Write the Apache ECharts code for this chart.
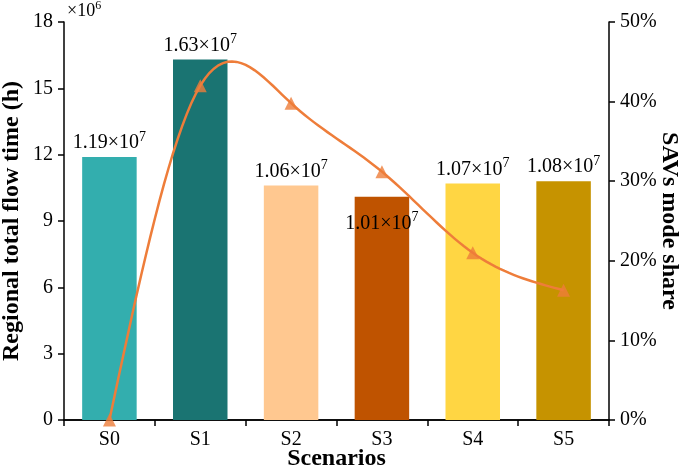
<!DOCTYPE html>
<html><head><meta charset="utf-8">
<script src="https://cdn.jsdelivr.net/npm/echarts@6/dist/echarts.min.js"></script>
<style>html,body{margin:0;padding:0;background:#fff}#c{width:685px;height:471px}</style>
</head><body><div id="c"></div>
<script>
const categories = ['S0','S1','S2','S3','S4','S5'];
const flowTime = [11.9, 16.3, 10.6, 10.1, 10.7, 10.8]; // ×10^6 h
const modeShare = [0.0, 0.42, 0.398, 0.312, 0.21, 0.163];
const barColors = ['#33AEAE','#1A7472','#FFC890','#BF5300','#FFD643','#C69300'];
const leftTicks = {min:0, max:18, interval:3};
const rightTicks = {min:0, max:0.5, interval:0.1};

const F = '"Liberation Serif","Times New Roman",serif';
const LINE = '#EE7D3A';

// natural cubic spline second derivatives (unit spacing)
function splineM(y){
  const n=y.length, M=new Array(n).fill(0);
  const c=[], d=[];
  for(let i=1;i<n-1;i++){
    const rhs=6*(y[i+1]-2*y[i]+y[i-1]);
    if(i===1){c[i]=1/4; d[i]=rhs/4;}
    else {const den=4-c[i-1]; c[i]=1/den; d[i]=(rhs-d[i-1])/den;}
  }
  for(let i=n-2;i>=1;i--){ M[i]=d[i]-(i<n-2?c[i]*M[i+1]:0); }
  return M;
}
const M = splineM(modeShare);

const chart = echarts.init(document.getElementById('c'));
const lbl = v => '{a|' + (v/10).toFixed(2) + '×10}{b|7}';
const rich = {a:{fontFamily:F,fontSize:20,color:'#000'},b:{fontFamily:F,fontSize:14,color:'#000',padding:[0,0,12,0]}};
chart.setOption({
  animation:false,
  grid:{left:64,right:76,top:22,bottom:51,containLabel:false,outerBoundsMode:'none'},
  xAxis:[{
    type:'category', data:categories,
    axisLine:{lineStyle:{color:'#000',width:1.5}},
    axisTick:{show:true,length:6,lineStyle:{color:'#000',width:1.5}},
    axisLabel:{fontFamily:F,fontSize:20,color:'#000',margin:10},
    name:'Scenarios', nameLocation:'middle', nameGap:27, nameMoveOverlap:false,
    nameTextStyle:{fontFamily:F,fontSize:24,fontWeight:'bold',color:'#000'}
  },{
    type:'category', data:categories, position:'top',
    axisLine:{lineStyle:{color:'#000',width:1.5}},
    axisTick:{show:false}, axisLabel:{show:false}
  }],
  yAxis:[{
    type:'value', min:leftTicks.min, max:leftTicks.max, interval:leftTicks.interval,
    axisLine:{show:true,lineStyle:{color:'#000',width:1.5}},
    axisTick:{show:true,length:6,lineStyle:{color:'#000',width:1.5}},
    splitLine:{show:false},
    axisLabel:{fontFamily:F,fontSize:20,color:'#000',margin:11},
    name:'Regional total flow time (h)', nameLocation:'middle', nameGap:40, nameMoveOverlap:false,
    nameTextStyle:{fontFamily:F,fontSize:24,fontWeight:'bold',color:'#000'}
  },{
    type:'value', min:rightTicks.min, max:rightTicks.max, interval:rightTicks.interval,
    position:'right',
    axisLine:{show:true,lineStyle:{color:'#000',width:1.5}},
    axisTick:{show:true,length:6,lineStyle:{color:'#000',width:1.5}},
    splitLine:{show:false},
    axisLabel:{fontFamily:F,fontSize:20,color:'#000',margin:11,formatter:v=>Math.round(v*100)+'%'},
    name:'SAVs mode share', nameLocation:'middle', nameGap:48, nameRotate:-90, nameMoveOverlap:false,
    nameTextStyle:{fontFamily:F,fontSize:24,fontWeight:'bold',color:'#000'}
  }],
  graphic:[{type:'text',left:67,top:0,style:{text:'{a|×10}{b|6}',rich:{a:{fontFamily:F,fontSize:18,fill:'#000'},b:{fontFamily:F,fontSize:12,fill:'#000',padding:[0,0,10,0]}}}}],
  series:[{
    type:'bar', barWidth:'60%',
    data:flowTime.map((v,i)=>({value:v,itemStyle:{color:barColors[i]},
      label: i===3 ? {position:'insideTop',distance:14} : {}})),
    label:{show:true,position:'top',distance:1,formatter:p=>lbl(p.value),rich:rich}
  },{
    type:'custom', yAxisIndex:1, z:4, silent:true,
    data:modeShare.map((v,i)=>[i,v]),
    renderItem:function(params, api){
      if(params.dataIndex!==0) return null;
      const x0=api.coord([0,0])[0], x1=api.coord([1,0])[0];
      const pts=[];
      const y=modeShare;
      for(let i=0;i<y.length-1;i++){
        for(let k=0;k<=20;k++){
          if(i>0&&k===0) continue;
          const t=k/20, u=1-t;
          const v=u*y[i]+t*y[i+1]+((u*u*u-u)*M[i]+(t*t*t-t)*M[i+1])/6;
          pts.push([x0+(i+t)*(x1-x0), api.coord([0,v])[1]]);
        }
      }
      return {type:'polyline',shape:{points:pts},style:{stroke:LINE,lineWidth:2.5,fill:null}};
    }
  },{
    type:'scatter', yAxisIndex:1, data:modeShare.map((v,i)=>[i,v]), z:5,
    symbol:'triangle', symbolSize:13, itemStyle:{color:LINE}
  }]
});
</script></body></html>
